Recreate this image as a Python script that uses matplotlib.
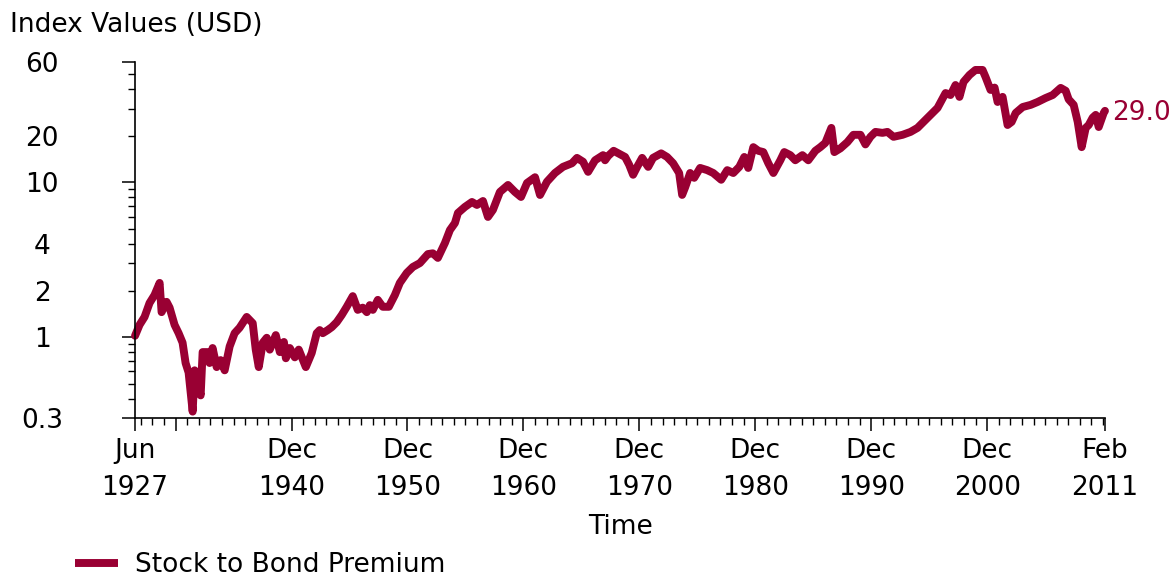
import matplotlib
matplotlib.use("Agg")
import matplotlib.pyplot as plt
from matplotlib.lines import Line2D

# ---------------- data ----------------
years = [
    1927.42, 1927.81, 1928.24, 1928.67, 1929.10, 1929.54, 1929.71, 1930.14, 1930.40, 1930.83,
    1931.18, 1931.52, 1931.78, 1932.04, 1932.39, 1932.56, 1933.08, 1933.25, 1933.68, 1933.85,
    1934.11, 1934.46, 1934.80, 1935.15, 1935.58, 1936.01, 1936.44, 1937.05, 1937.57, 1937.83,
    1938.09, 1938.44, 1938.78, 1939.04, 1939.56, 1939.91, 1940.26, 1940.43, 1940.77, 1941.20,
    1941.54, 1942.15, 1942.66, 1943.09, 1943.35, 1943.61, 1944.04, 1944.39, 1944.82, 1945.25,
    1945.68, 1946.20, 1946.63, 1947.06, 1947.41, 1947.67, 1947.93, 1948.36, 1948.79, 1949.31,
    1949.83, 1950.26, 1950.86, 1951.38, 1951.99, 1952.68, 1953.11, 1953.54, 1954.15, 1954.58,
    1955.01, 1955.27, 1955.87, 1956.48, 1956.91, 1957.43, 1957.86, 1958.29, 1958.89, 1959.59,
    1960.19, 1960.71, 1961.23, 1961.92, 1962.35, 1962.95, 1963.64, 1964.33, 1965.11, 1965.54,
    1966.06, 1966.50, 1967.10, 1967.79, 1967.96, 1968.22, 1968.70, 1969.26, 1969.69, 1970.04,
    1970.38, 1970.73, 1971.16, 1971.68, 1972.10, 1972.80, 1973.31, 1973.83, 1974.35, 1974.61,
    1974.87, 1975.30, 1975.65, 1976.16, 1976.77, 1977.29, 1977.98, 1978.50, 1979.02, 1979.54,
    1979.97, 1980.31, 1980.75, 1981.18, 1981.61, 1982.04, 1982.48, 1983.08, 1983.42, 1983.94,
    1984.37, 1984.98, 1985.49, 1986.10, 1986.53, 1986.96, 1987.48, 1987.74, 1988.26, 1988.86,
    1989.38, 1989.99, 1990.42, 1990.85, 1991.28, 1991.89, 1992.32, 1992.84, 1993.62, 1994.31,
    1994.91, 1995.43, 1996.04, 1996.64, 1997.33, 1997.76, 1998.19, 1998.53, 1998.88, 1999.40,
    1999.91, 2000.52, 2000.78, 2001.21, 2001.56, 2001.82, 2002.25, 2002.68, 2003.03, 2003.38,
    2003.98, 2004.67, 2005.27, 2005.96, 2006.57, 2007.26, 2007.69, 2007.95, 2008.38, 2008.73,
    2009.07, 2009.42, 2009.68, 2010.02, 2010.28, 2010.54, 2010.97, 2011.08,
]
premium = [
    1.02, 1.20, 1.35, 1.66, 1.87, 2.24, 1.45, 1.69, 1.55, 1.20,
    1.06, 0.92, 0.68, 0.59, 0.33, 0.61, 0.42, 0.80, 0.80, 0.68,
    0.85, 0.64, 0.71, 0.61, 0.87, 1.06, 1.15, 1.35, 1.23, 0.83,
    0.64, 0.92, 0.99, 0.83, 1.03, 0.80, 0.93, 0.73, 0.85, 0.74,
    0.83, 0.64, 0.79, 1.06, 1.11, 1.06, 1.11, 1.16, 1.25, 1.39,
    1.57, 1.84, 1.50, 1.55, 1.45, 1.61, 1.50, 1.74, 1.57, 1.57,
    1.87, 2.24, 2.60, 2.84, 3.01, 3.44, 3.48, 3.25, 4.06, 4.92,
    5.46, 6.34, 6.94, 7.47, 7.15, 7.58, 5.98, 6.64, 8.67, 9.62,
    8.67, 8.05, 9.91, 10.8, 8.29, 10.1, 11.5, 12.6, 13.3, 14.4,
    13.6, 11.7, 13.9, 15.0, 13.9, 14.8, 16.0, 15.2, 14.6, 13.0,
    11.2, 12.6, 14.4, 12.6, 14.4, 15.4, 14.6, 13.3, 11.5, 8.3,
    9.3, 11.5, 10.7, 12.4, 12.0, 11.5, 10.4, 12.0, 11.5, 12.6,
    14.6, 12.4, 16.9, 16.0, 15.7, 13.3, 11.5, 13.9, 15.7, 15.0,
    13.9, 15.0, 13.9, 16.0, 16.9, 18.0, 22.5, 15.7, 16.6, 18.2,
    20.3, 20.3, 17.6, 19.7, 21.2, 20.9, 21.2, 19.7, 20.3, 21.2,
    22.5, 24.6, 27.3, 30.3, 37.8, 36.7, 42.6, 35.7, 44.6, 49.5,
    53.3, 53.3, 48.0, 39.6, 41.0, 33.1, 35.7, 23.5, 24.6, 28.1,
    30.7, 31.7, 33.1, 35.1, 36.7, 40.8, 39.1, 34.4, 31.7, 24.6,
    16.9, 22.5, 23.5, 26.2, 27.3, 22.8, 28.1, 29.0,
]
series_name = "Stock to Bond Premium"

x_major = [1927 + 5/12, 1930 + 11/12, 1940 + 11/12, 1950 + 11/12, 1960 + 11/12,
           1970 + 11/12, 1980 + 11/12, 1990 + 11/12, 2000 + 11/12, 2011 + 1/12]
x_major_labels = ["Jun\n1927", "", "Dec\n1940", "Dec\n1950", "Dec\n1960",
                  "Dec\n1970", "Dec\n1980", "Dec\n1990", "Dec\n2000", "Feb\n2011"]
x_minor = [y + 11/12 for y in range(1927, 2011)]

y_major = [0.3, 1, 10, 60]
y_major_labels = ["0.3", "1", "10", "60"]
y_minor = [0.4, 0.5, 0.6, 0.7, 0.8, 0.9, 2, 3, 4, 5, 6, 7, 8, 9, 20, 30, 40, 50]
y_minor_labels = ["", "", "", "", "", "", "2", "", "4", "", "", "", "", "", "20", "", "", ""]

# ---------------- style ----------------
RED = "#990033"
FS = 19
W, H = 1173, 577
plt.rcParams["font.family"] = ["DejaVu Sans"]

fig = plt.figure(figsize=(W / 100, H / 100), dpi=100)
ax = fig.add_axes([135 / W, 1 - 418 / H, (1105 - 135) / W, (418 - 62) / H])

ax.plot(years, premium, color=RED, lw=5.7, solid_joinstyle="round",
        solid_capstyle="round", clip_on=False, label=series_name)

ax.set_yscale("log")
ax.set_xlim(x_major[0], x_major[-1])
ax.set_ylim(0.3, 60)

for s in ("top", "right"):
    ax.spines[s].set_visible(False)
for s in ("left", "bottom"):
    ax.spines[s].set_linewidth(1.2)

ax.set_xticks(x_major, labels=x_major_labels)
ax.set_xticks(x_minor, minor=True)
ax.set_yticks(y_major, labels=y_major_labels)
ax.set_yticks(y_minor, labels=y_minor_labels, minor=True)

ax.tick_params(axis="x", which="major", direction="out", length=9.4, width=1.1,
               pad=5, labelsize=FS)
ax.tick_params(axis="x", which="minor", direction="out", length=5.0, width=1.0)
ax.tick_params(axis="y", which="major", direction="out", length=9.4, width=1.1,
               pad=57.5, labelsize=FS)
ax.tick_params(axis="y", which="minor", direction="out", length=5.0, width=1.0,
               pad=61.8, labelsize=FS)
for lab in ax.get_xticklabels():
    lab.set_linespacing(1.55)
for lab in ax.get_yticklabels() + ax.get_yticklabels(minor=True):
    lab.set_horizontalalignment("center")

# end value label
ax.annotate(f"{premium[-1]:.1f}", xy=(years[-1], premium[-1]), xytext=(7, -2),
            textcoords="offset pixels", va="center", ha="left", color=RED,
            fontsize=FS, annotation_clip=False)

# titles
fig.text(10 / W, 1 - 25 / H, "Index Values (USD)", ha="left", va="center", fontsize=FS)
fig.text(620 / W, 1 - 527 / H, "Time", ha="center", va="center", fontsize=FS)

# legend
handle = Line2D([], [], color=RED, lw=5.7, solid_capstyle="butt")
fig.legend([handle], [series_name], loc="center left",
           bbox_to_anchor=(75 / W, 1 - 565 / H), frameon=False, fontsize=FS,
           handlelength=43 / 26.4, handletextpad=17 / 26.4, borderpad=0,
           borderaxespad=0)

fig.savefig("out.png", dpi=100)
